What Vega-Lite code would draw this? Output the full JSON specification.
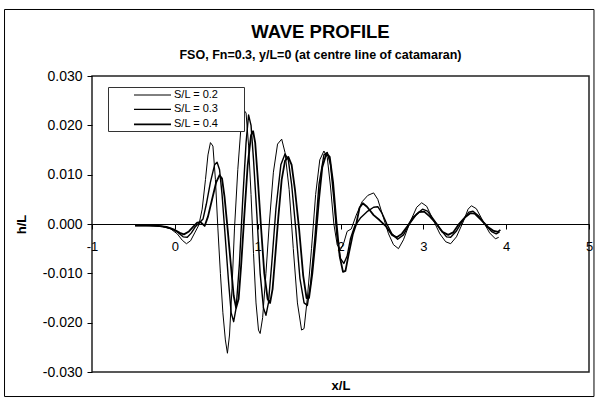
{
  "$schema": "https://vega.github.io/schema/vega-lite/v6.json",
  "autosize": {"type": "none"},
  "padding": {"left": 92, "top": 76, "right": 8, "bottom": 27},
  "width": 497,
  "height": 296,
  "background": "white",
  "title": {
    "text": "WAVE PROFILE",
    "subtitle": "FSO, Fn=0.3, y/L=0 (at centre line of catamaran)",
    "anchor": "middle",
    "frame": "group",
    "dx": -20,
    "offset": -53,
    "font": "Liberation Sans",
    "fontSize": 18.5,
    "fontWeight": "bold",
    "color": "black",
    "subtitleFont": "Liberation Sans",
    "subtitleFontSize": 12.5,
    "subtitleFontWeight": "bold",
    "subtitleColor": "black",
    "subtitlePadding": 8
  },
  "config": {
    "view": {"stroke": "#222", "strokeWidth": 1.5},
    "axis": {"grid": false}
  },
  "datasets": {
    "frame": [{"x0": -2.056, "x1": 5.06, "y0": 0.04348, "y1": -0.03497}],
    "profiles": [
      {"s": "S/L = 0.2", "x": -0.48, "h": -0.0002},
      {"s": "S/L = 0.2", "x": -0.38, "h": -0.0003},
      {"s": "S/L = 0.2", "x": -0.25, "h": -0.0003},
      {"s": "S/L = 0.2", "x": -0.15, "h": -0.0005},
      {"s": "S/L = 0.2", "x": -0.05, "h": -0.0010},
      {"s": "S/L = 0.2", "x": 0.03, "h": -0.0020},
      {"s": "S/L = 0.2", "x": 0.09, "h": -0.0033},
      {"s": "S/L = 0.2", "x": 0.14, "h": -0.0040},
      {"s": "S/L = 0.2", "x": 0.19, "h": -0.0034},
      {"s": "S/L = 0.2", "x": 0.24, "h": -0.0018},
      {"s": "S/L = 0.2", "x": 0.29, "h": -0.0002},
      {"s": "S/L = 0.2", "x": 0.33, "h": 0.0030},
      {"s": "S/L = 0.2", "x": 0.37, "h": 0.0090},
      {"s": "S/L = 0.2", "x": 0.40, "h": 0.0140},
      {"s": "S/L = 0.2", "x": 0.43, "h": 0.0165},
      {"s": "S/L = 0.2", "x": 0.46, "h": 0.0158},
      {"s": "S/L = 0.2", "x": 0.49, "h": 0.0090},
      {"s": "S/L = 0.2", "x": 0.52, "h": -0.0010},
      {"s": "S/L = 0.2", "x": 0.55, "h": -0.0100},
      {"s": "S/L = 0.2", "x": 0.58, "h": -0.0180},
      {"s": "S/L = 0.2", "x": 0.61, "h": -0.0235},
      {"s": "S/L = 0.2", "x": 0.635, "h": -0.0262},
      {"s": "S/L = 0.2", "x": 0.66, "h": -0.0225},
      {"s": "S/L = 0.2", "x": 0.69, "h": -0.0130},
      {"s": "S/L = 0.2", "x": 0.72, "h": -0.0010},
      {"s": "S/L = 0.2", "x": 0.76, "h": 0.0110},
      {"s": "S/L = 0.2", "x": 0.80, "h": 0.0200},
      {"s": "S/L = 0.2", "x": 0.83, "h": 0.0232},
      {"s": "S/L = 0.2", "x": 0.86, "h": 0.0225},
      {"s": "S/L = 0.2", "x": 0.89, "h": 0.0160},
      {"s": "S/L = 0.2", "x": 0.92, "h": 0.0060},
      {"s": "S/L = 0.2", "x": 0.95, "h": -0.0060},
      {"s": "S/L = 0.2", "x": 0.98, "h": -0.0160},
      {"s": "S/L = 0.2", "x": 1.01, "h": -0.0215},
      {"s": "S/L = 0.2", "x": 1.03, "h": -0.0222},
      {"s": "S/L = 0.2", "x": 1.06, "h": -0.0190},
      {"s": "S/L = 0.2", "x": 1.10, "h": -0.0100},
      {"s": "S/L = 0.2", "x": 1.14, "h": 0.0000},
      {"s": "S/L = 0.2", "x": 1.19, "h": 0.0105},
      {"s": "S/L = 0.2", "x": 1.24, "h": 0.0162},
      {"s": "S/L = 0.2", "x": 1.29, "h": 0.0172},
      {"s": "S/L = 0.2", "x": 1.33, "h": 0.0145},
      {"s": "S/L = 0.2", "x": 1.38, "h": 0.0070},
      {"s": "S/L = 0.2", "x": 1.43, "h": -0.0050},
      {"s": "S/L = 0.2", "x": 1.48, "h": -0.0160},
      {"s": "S/L = 0.2", "x": 1.53, "h": -0.0215},
      {"s": "S/L = 0.2", "x": 1.56, "h": -0.0212},
      {"s": "S/L = 0.2", "x": 1.60, "h": -0.0150},
      {"s": "S/L = 0.2", "x": 1.65, "h": -0.0050},
      {"s": "S/L = 0.2", "x": 1.70, "h": 0.0060},
      {"s": "S/L = 0.2", "x": 1.75, "h": 0.0130},
      {"s": "S/L = 0.2", "x": 1.80, "h": 0.0148},
      {"s": "S/L = 0.2", "x": 1.84, "h": 0.0135},
      {"s": "S/L = 0.2", "x": 1.88, "h": 0.0075},
      {"s": "S/L = 0.2", "x": 1.92, "h": 0.0000},
      {"s": "S/L = 0.2", "x": 1.96, "h": -0.0042},
      {"s": "S/L = 0.2", "x": 2.00, "h": -0.0052},
      {"s": "S/L = 0.2", "x": 2.04, "h": -0.0038},
      {"s": "S/L = 0.2", "x": 2.08, "h": -0.0015},
      {"s": "S/L = 0.2", "x": 2.13, "h": -0.0010},
      {"s": "S/L = 0.2", "x": 2.19, "h": 0.0018},
      {"s": "S/L = 0.2", "x": 2.26, "h": 0.0045},
      {"s": "S/L = 0.2", "x": 2.33, "h": 0.0058},
      {"s": "S/L = 0.2", "x": 2.40, "h": 0.0063},
      {"s": "S/L = 0.2", "x": 2.45, "h": 0.0050},
      {"s": "S/L = 0.2", "x": 2.52, "h": 0.0012},
      {"s": "S/L = 0.2", "x": 2.58, "h": -0.0020},
      {"s": "S/L = 0.2", "x": 2.64, "h": -0.0042},
      {"s": "S/L = 0.2", "x": 2.70, "h": -0.0050},
      {"s": "S/L = 0.2", "x": 2.76, "h": -0.0032},
      {"s": "S/L = 0.2", "x": 2.84, "h": 0.0004},
      {"s": "S/L = 0.2", "x": 2.92, "h": 0.0034},
      {"s": "S/L = 0.2", "x": 2.98, "h": 0.0043},
      {"s": "S/L = 0.2", "x": 3.04, "h": 0.0036},
      {"s": "S/L = 0.2", "x": 3.12, "h": 0.0008},
      {"s": "S/L = 0.2", "x": 3.20, "h": -0.0020},
      {"s": "S/L = 0.2", "x": 3.27, "h": -0.0036},
      {"s": "S/L = 0.2", "x": 3.33, "h": -0.0040},
      {"s": "S/L = 0.2", "x": 3.40, "h": -0.0026},
      {"s": "S/L = 0.2", "x": 3.48, "h": 0.0004},
      {"s": "S/L = 0.2", "x": 3.54, "h": 0.0030},
      {"s": "S/L = 0.2", "x": 3.58, "h": 0.0037},
      {"s": "S/L = 0.2", "x": 3.64, "h": 0.0031},
      {"s": "S/L = 0.2", "x": 3.72, "h": 0.0006},
      {"s": "S/L = 0.2", "x": 3.80, "h": -0.0018},
      {"s": "S/L = 0.2", "x": 3.87, "h": -0.0030},
      {"s": "S/L = 0.2", "x": 3.91, "h": -0.0027},

      {"s": "S/L = 0.3", "x": -0.48, "h": -0.0003},
      {"s": "S/L = 0.3", "x": -0.30, "h": -0.0003},
      {"s": "S/L = 0.3", "x": -0.15, "h": -0.0005},
      {"s": "S/L = 0.3", "x": -0.05, "h": -0.0009},
      {"s": "S/L = 0.3", "x": 0.03, "h": -0.0016},
      {"s": "S/L = 0.3", "x": 0.10, "h": -0.0026},
      {"s": "S/L = 0.3", "x": 0.15, "h": -0.0027},
      {"s": "S/L = 0.3", "x": 0.20, "h": -0.0018},
      {"s": "S/L = 0.3", "x": 0.25, "h": -0.0005},
      {"s": "S/L = 0.3", "x": 0.30, "h": 0.0003},
      {"s": "S/L = 0.3", "x": 0.34, "h": 0.0010},
      {"s": "S/L = 0.3", "x": 0.38, "h": 0.0040},
      {"s": "S/L = 0.3", "x": 0.43, "h": 0.0085},
      {"s": "S/L = 0.3", "x": 0.48, "h": 0.0120},
      {"s": "S/L = 0.3", "x": 0.51, "h": 0.0125},
      {"s": "S/L = 0.3", "x": 0.54, "h": 0.0110},
      {"s": "S/L = 0.3", "x": 0.57, "h": 0.0060},
      {"s": "S/L = 0.3", "x": 0.61, "h": -0.0030},
      {"s": "S/L = 0.3", "x": 0.65, "h": -0.0120},
      {"s": "S/L = 0.3", "x": 0.68, "h": -0.0180},
      {"s": "S/L = 0.3", "x": 0.71, "h": -0.0198},
      {"s": "S/L = 0.3", "x": 0.74, "h": -0.0170},
      {"s": "S/L = 0.3", "x": 0.78, "h": -0.0080},
      {"s": "S/L = 0.3", "x": 0.82, "h": 0.0050},
      {"s": "S/L = 0.3", "x": 0.86, "h": 0.0165},
      {"s": "S/L = 0.3", "x": 0.89, "h": 0.0221},
      {"s": "S/L = 0.3", "x": 0.92, "h": 0.0200},
      {"s": "S/L = 0.3", "x": 0.95, "h": 0.0130},
      {"s": "S/L = 0.3", "x": 0.99, "h": 0.0020},
      {"s": "S/L = 0.3", "x": 1.03, "h": -0.0100},
      {"s": "S/L = 0.3", "x": 1.07, "h": -0.0170},
      {"s": "S/L = 0.3", "x": 1.10, "h": -0.0185},
      {"s": "S/L = 0.3", "x": 1.13, "h": -0.0160},
      {"s": "S/L = 0.3", "x": 1.17, "h": -0.0080},
      {"s": "S/L = 0.3", "x": 1.22, "h": 0.0030},
      {"s": "S/L = 0.3", "x": 1.28, "h": 0.0120},
      {"s": "S/L = 0.3", "x": 1.33, "h": 0.0142},
      {"s": "S/L = 0.3", "x": 1.37, "h": 0.0130},
      {"s": "S/L = 0.3", "x": 1.41, "h": 0.0080},
      {"s": "S/L = 0.3", "x": 1.46, "h": -0.0010},
      {"s": "S/L = 0.3", "x": 1.51, "h": -0.0110},
      {"s": "S/L = 0.3", "x": 1.56, "h": -0.0160},
      {"s": "S/L = 0.3", "x": 1.60, "h": -0.0165},
      {"s": "S/L = 0.3", "x": 1.64, "h": -0.0120},
      {"s": "S/L = 0.3", "x": 1.69, "h": -0.0030},
      {"s": "S/L = 0.3", "x": 1.74, "h": 0.0080},
      {"s": "S/L = 0.3", "x": 1.80, "h": 0.0140},
      {"s": "S/L = 0.3", "x": 1.84, "h": 0.0145},
      {"s": "S/L = 0.3", "x": 1.88, "h": 0.0120},
      {"s": "S/L = 0.3", "x": 1.92, "h": 0.0050},
      {"s": "S/L = 0.3", "x": 1.96, "h": -0.0030},
      {"s": "S/L = 0.3", "x": 2.00, "h": -0.0070},
      {"s": "S/L = 0.3", "x": 2.04, "h": -0.0080},
      {"s": "S/L = 0.3", "x": 2.08, "h": -0.0065},
      {"s": "S/L = 0.3", "x": 2.12, "h": -0.0030},
      {"s": "S/L = 0.3", "x": 2.17, "h": -0.0005},
      {"s": "S/L = 0.3", "x": 2.24, "h": 0.0012},
      {"s": "S/L = 0.3", "x": 2.32, "h": 0.0025},
      {"s": "S/L = 0.3", "x": 2.40, "h": 0.0034},
      {"s": "S/L = 0.3", "x": 2.45, "h": 0.0035},
      {"s": "S/L = 0.3", "x": 2.50, "h": 0.0022},
      {"s": "S/L = 0.3", "x": 2.56, "h": 0.0000},
      {"s": "S/L = 0.3", "x": 2.62, "h": -0.0020},
      {"s": "S/L = 0.3", "x": 2.69, "h": -0.0031},
      {"s": "S/L = 0.3", "x": 2.76, "h": -0.0022},
      {"s": "S/L = 0.3", "x": 2.84, "h": 0.0002},
      {"s": "S/L = 0.3", "x": 2.92, "h": 0.0020},
      {"s": "S/L = 0.3", "x": 2.99, "h": 0.0030},
      {"s": "S/L = 0.3", "x": 3.05, "h": 0.0026},
      {"s": "S/L = 0.3", "x": 3.13, "h": 0.0008},
      {"s": "S/L = 0.3", "x": 3.21, "h": -0.0012},
      {"s": "S/L = 0.3", "x": 3.28, "h": -0.0026},
      {"s": "S/L = 0.3", "x": 3.33, "h": -0.0027},
      {"s": "S/L = 0.3", "x": 3.40, "h": -0.0014},
      {"s": "S/L = 0.3", "x": 3.48, "h": 0.0008},
      {"s": "S/L = 0.3", "x": 3.55, "h": 0.0024},
      {"s": "S/L = 0.3", "x": 3.60, "h": 0.0026},
      {"s": "S/L = 0.3", "x": 3.67, "h": 0.0016},
      {"s": "S/L = 0.3", "x": 3.75, "h": -0.0002},
      {"s": "S/L = 0.3", "x": 3.83, "h": -0.0016},
      {"s": "S/L = 0.3", "x": 3.88, "h": -0.0020},
      {"s": "S/L = 0.3", "x": 3.92, "h": -0.0016},

      {"s": "S/L = 0.4", "x": -0.48, "h": -0.0003},
      {"s": "S/L = 0.4", "x": -0.35, "h": -0.0003},
      {"s": "S/L = 0.4", "x": -0.20, "h": -0.0004},
      {"s": "S/L = 0.4", "x": -0.10, "h": -0.0006},
      {"s": "S/L = 0.4", "x": 0.00, "h": -0.0012},
      {"s": "S/L = 0.4", "x": 0.06, "h": -0.0018},
      {"s": "S/L = 0.4", "x": 0.11, "h": -0.0021},
      {"s": "S/L = 0.4", "x": 0.17, "h": -0.0015},
      {"s": "S/L = 0.4", "x": 0.22, "h": -0.0006},
      {"s": "S/L = 0.4", "x": 0.27, "h": 0.0003},
      {"s": "S/L = 0.4", "x": 0.31, "h": 0.0004},
      {"s": "S/L = 0.4", "x": 0.36, "h": -0.0004},
      {"s": "S/L = 0.4", "x": 0.40, "h": 0.0015},
      {"s": "S/L = 0.4", "x": 0.45, "h": 0.0050},
      {"s": "S/L = 0.4", "x": 0.50, "h": 0.0085},
      {"s": "S/L = 0.4", "x": 0.54, "h": 0.0099},
      {"s": "S/L = 0.4", "x": 0.57, "h": 0.0092},
      {"s": "S/L = 0.4", "x": 0.60, "h": 0.0055},
      {"s": "S/L = 0.4", "x": 0.64, "h": -0.0015},
      {"s": "S/L = 0.4", "x": 0.68, "h": -0.0090},
      {"s": "S/L = 0.4", "x": 0.71, "h": -0.0145},
      {"s": "S/L = 0.4", "x": 0.74, "h": -0.0170},
      {"s": "S/L = 0.4", "x": 0.77, "h": -0.0152},
      {"s": "S/L = 0.4", "x": 0.80, "h": -0.0085},
      {"s": "S/L = 0.4", "x": 0.84, "h": 0.0020},
      {"s": "S/L = 0.4", "x": 0.88, "h": 0.0120},
      {"s": "S/L = 0.4", "x": 0.92, "h": 0.0180},
      {"s": "S/L = 0.4", "x": 0.945, "h": 0.0188},
      {"s": "S/L = 0.4", "x": 0.97, "h": 0.0165},
      {"s": "S/L = 0.4", "x": 1.00, "h": 0.0095},
      {"s": "S/L = 0.4", "x": 1.04, "h": -0.0005},
      {"s": "S/L = 0.4", "x": 1.08, "h": -0.0100},
      {"s": "S/L = 0.4", "x": 1.12, "h": -0.0152},
      {"s": "S/L = 0.4", "x": 1.15, "h": -0.0160},
      {"s": "S/L = 0.4", "x": 1.18, "h": -0.0132},
      {"s": "S/L = 0.4", "x": 1.21, "h": -0.0070},
      {"s": "S/L = 0.4", "x": 1.25, "h": 0.0015},
      {"s": "S/L = 0.4", "x": 1.29, "h": 0.0090},
      {"s": "S/L = 0.4", "x": 1.33, "h": 0.0128},
      {"s": "S/L = 0.4", "x": 1.37, "h": 0.0136},
      {"s": "S/L = 0.4", "x": 1.41, "h": 0.0120},
      {"s": "S/L = 0.4", "x": 1.45, "h": 0.0070},
      {"s": "S/L = 0.4", "x": 1.50, "h": -0.0010},
      {"s": "S/L = 0.4", "x": 1.55, "h": -0.0105},
      {"s": "S/L = 0.4", "x": 1.59, "h": -0.0150},
      {"s": "S/L = 0.4", "x": 1.62, "h": -0.0150},
      {"s": "S/L = 0.4", "x": 1.66, "h": -0.0100},
      {"s": "S/L = 0.4", "x": 1.70, "h": -0.0030},
      {"s": "S/L = 0.4", "x": 1.74, "h": 0.0050},
      {"s": "S/L = 0.4", "x": 1.78, "h": 0.0115},
      {"s": "S/L = 0.4", "x": 1.83, "h": 0.0143},
      {"s": "S/L = 0.4", "x": 1.87, "h": 0.0136},
      {"s": "S/L = 0.4", "x": 1.91, "h": 0.0085},
      {"s": "S/L = 0.4", "x": 1.95, "h": 0.0005},
      {"s": "S/L = 0.4", "x": 1.99, "h": -0.0065},
      {"s": "S/L = 0.4", "x": 2.03, "h": -0.0097},
      {"s": "S/L = 0.4", "x": 2.06, "h": -0.0095},
      {"s": "S/L = 0.4", "x": 2.10, "h": -0.0060},
      {"s": "S/L = 0.4", "x": 2.15, "h": -0.0020},
      {"s": "S/L = 0.4", "x": 2.19, "h": 0.0000},
      {"s": "S/L = 0.4", "x": 2.23, "h": 0.0033},
      {"s": "S/L = 0.4", "x": 2.27, "h": 0.0042},
      {"s": "S/L = 0.4", "x": 2.32, "h": 0.0035},
      {"s": "S/L = 0.4", "x": 2.40, "h": 0.0018},
      {"s": "S/L = 0.4", "x": 2.47, "h": 0.0008},
      {"s": "S/L = 0.4", "x": 2.55, "h": -0.0005},
      {"s": "S/L = 0.4", "x": 2.62, "h": -0.0022},
      {"s": "S/L = 0.4", "x": 2.68, "h": -0.0027},
      {"s": "S/L = 0.4", "x": 2.74, "h": -0.0020},
      {"s": "S/L = 0.4", "x": 2.81, "h": -0.0004},
      {"s": "S/L = 0.4", "x": 2.88, "h": 0.0014},
      {"s": "S/L = 0.4", "x": 2.95, "h": 0.0024},
      {"s": "S/L = 0.4", "x": 3.01, "h": 0.0025},
      {"s": "S/L = 0.4", "x": 3.08, "h": 0.0015},
      {"s": "S/L = 0.4", "x": 3.16, "h": 0.0000},
      {"s": "S/L = 0.4", "x": 3.23, "h": -0.0016},
      {"s": "S/L = 0.4", "x": 3.30, "h": -0.0022},
      {"s": "S/L = 0.4", "x": 3.36, "h": -0.0017},
      {"s": "S/L = 0.4", "x": 3.43, "h": 0.0000},
      {"s": "S/L = 0.4", "x": 3.50, "h": 0.0013},
      {"s": "S/L = 0.4", "x": 3.57, "h": 0.0022},
      {"s": "S/L = 0.4", "x": 3.62, "h": 0.0021},
      {"s": "S/L = 0.4", "x": 3.70, "h": 0.0008},
      {"s": "S/L = 0.4", "x": 3.78, "h": -0.0006},
      {"s": "S/L = 0.4", "x": 3.85, "h": -0.0014},
      {"s": "S/L = 0.4", "x": 3.90, "h": -0.0016},
      {"s": "S/L = 0.4", "x": 3.93, "h": -0.0012}
    ]
  },
  "layer": [
    {
      "data": {"name": "frame"},
      "mark": {"type": "rect", "fill": null, "fillOpacity": 0, "stroke": "black", "strokeWidth": 1, "clip": false},
      "encoding": {
        "x": {"field": "x0", "type": "quantitative", "scale": {"domain": [-1, 5], "nice": false, "zero": false}},
        "x2": {"field": "x1"},
        "y": {"field": "y0", "type": "quantitative", "scale": {"domain": [-0.03, 0.03], "nice": false, "zero": false}},
        "y2": {"field": "y1"}
      }
    },
    {
      "data": {"name": "profiles"},
      "mark": {"type": "line", "color": "black", "interpolate": "linear", "strokeJoin": "round"},
      "encoding": {
        "x": {
          "field": "x",
          "type": "quantitative",
          "scale": {"domain": [-1, 5], "nice": false, "zero": false},
          "axis": {
            "orient": "bottom",
            "offset": -148,
            "values": [-1, 0, 1, 2, 3, 4, 5],
            "format": "d",
            "labelExpr": "replace(datum.label, '\u2212', '-')",
            "domainColor": "black",
            "domainWidth": 1,
            "tickColor": "black",
            "tickSize": 5,
            "labelPadding": 11,
            "labelFlush": false,
            "labelOverlap": false,
            "labelFont": "Liberation Sans",
            "labelFontSize": 13,
            "labelColor": "black",
            "title": "x/L",
            "titleY": 165,
            "titleBaseline": "alphabetic",
            "titleFont": "Liberation Sans",
            "titleFontSize": 13,
            "titleFontWeight": "bold",
            "titleColor": "black"
          }
        },
        "y": {
          "field": "h",
          "type": "quantitative",
          "scale": {"domain": [-0.03, 0.03], "nice": false, "zero": false},
          "axis": {
            "values": [-0.03, -0.02, -0.01, 0, 0.01, 0.02, 0.03],
            "format": ".3f",
            "labelExpr": "replace(datum.label, '\u2212', '-')",
            "domain": false,
            "tickColor": "black",
            "tickSize": 5,
            "labelPadding": 5,
            "labelFont": "Liberation Sans",
            "labelFontSize": 14,
            "labelColor": "black",
            "title": "h/L",
            "titleX": -71,
            "titleY": 148,
            "titleAlign": "center",
            "titleBaseline": "middle",
            "titleFont": "Liberation Sans",
            "titleFontSize": 13,
            "titleFontWeight": "bold",
            "titleColor": "black"
          }
        },
        "strokeWidth": {
          "field": "s",
          "type": "ordinal",
          "scale": {"domain": ["S/L = 0.2", "S/L = 0.3", "S/L = 0.4"], "range": [1, 1.8, 3]},
          "legend": {
            "orient": "none",
            "legendX": 16,
            "legendY": 11,
            "title": null,
            "symbolType": "M-3,0H3",
            "symbolSize": 152,
            "symbolStrokeColor": "black",
            "symbolOffset": 36,
            "labelOffset": 14,
            "labelFont": "Liberation Sans",
            "labelFontSize": 11,
            "labelColor": "black",
            "labelExpr": "datum.label + '\u00a0\u00a0\u00a0\u00a0\u00a0\u00a0\u00a0\u00a0\u200c'",
            "rowPadding": 2.4,
            "padding": 1,
            "strokeColor": "#333",
            "fillColor": "white"
          }
        }
      }
    }
  ]
}
